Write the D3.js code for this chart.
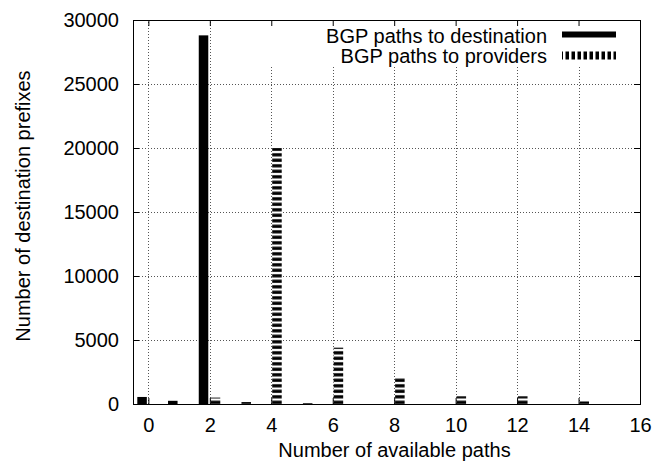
<!DOCTYPE html>
<html>
<head>
<meta charset="utf-8">
<script src="https://cdn.jsdelivr.net/npm/d3@7"></script>
<style>
  body { margin: 0; background: #fff; }
  text { font-family: "Liberation Sans", Arial, sans-serif; }
</style>
</head>
<body>
<div id="chart"></div>
<script>
// data
var pathCounts = [0, 1, 2, 3, 4, 5, 6, 7, 8, 9, 10, 11, 12, 13, 14, 15];
var toDestination = [550, 250, 28800, 0, 0, 0, 0, 0, 0, 0, 0, 0, 0, 0, 0, 0];
var toProviders = [0, 0, 500, 150, 20000, 70, 4400, 0, 2100, 0, 600, 0, 600, 0, 200, 0];
var seriesNames = ["BGP paths to destination", "BGP paths to providers"];
var xTicks = [0, 2, 4, 6, 8, 10, 12, 14, 16];
var yTicks = [0, 5000, 10000, 15000, 20000, 25000, 30000];

var svgWidth = 668;
var svgHeight = 463;

var margin = { top: 20, right: 28, bottom: 59, left: 133 };
var width = svgWidth - margin.left - margin.right;
var height = svgHeight - margin.top - margin.bottom;

var svg = d3.select("#chart")
  .append("svg")
  .attr("width", svgWidth)
  .attr("height", svgHeight);

var defs = svg.append("defs");

// horizontal stripes for the providers bars
var hp = defs.append("pattern")
  .attr("id", "hstripes")
  .attr("patternUnits", "userSpaceOnUse")
  .attr("width", 10)
  .attr("height", 5.5);
hp.append("rect").attr("width", 10).attr("height", 5.5).attr("fill", "#fff");
hp.append("rect").attr("y", 1.2).attr("width", 10).attr("height", 3.2).attr("fill", "#000");

// vertical stripes for the legend sample
var vp = defs.append("pattern")
  .attr("id", "vstripes")
  .attr("patternUnits", "userSpaceOnUse")
  .attr("width", 6)
  .attr("height", 10);
vp.append("rect").attr("width", 6).attr("height", 10).attr("fill", "#fff");
vp.append("rect").attr("x", 0.5).attr("width", 3.5).attr("height", 10).attr("fill", "#000");

var chartGroup = svg.append("g")
  .attr("transform", `translate(${margin.left}, ${margin.top})`);

var x = d3.scaleLinear().domain([-0.5, 16]).range([0, width]);
var y = d3.scaleLinear().domain([0, 30000]).range([height, 0]);

var boxWidth = 0.31;

// grid lines
var grid = chartGroup.append("g")
  .attr("stroke", "#555")
  .attr("stroke-width", 1)
  .attr("stroke-dasharray", "1,2");

grid.selectAll(".gx")
  .data(xTicks.filter(d => d < 16))
  .enter()
  .append("line")
  .attr("x1", d => Math.round(x(d)) + 0.5)
  .attr("x2", d => Math.round(x(d)) + 0.5)
  .attr("y1", height)
  .attr("y2", 0);

grid.selectAll(".gy")
  .data(yTicks.filter(d => d > 0 && d < 30000))
  .enter()
  .append("line")
  .attr("x1", 0)
  .attr("x2", width)
  .attr("y1", d => Math.round(y(d)) + 0.5)
  .attr("y2", d => Math.round(y(d)) + 0.5);

// legend area covers the grid
chartGroup.append("rect")
  .attr("x", x(3.2))
  .attr("y", 1)
  .attr("width", width - x(3.2) - 1)
  .attr("height", 46)
  .attr("fill", "#fff");

// bars
chartGroup.selectAll(".dest")
  .data(pathCounts)
  .enter()
  .append("rect")
  .attr("x", d => x(d - 0.36))
  .attr("width", x(boxWidth) - x(0))
  .attr("y", (d, i) => y(toDestination[i]))
  .attr("height", (d, i) => height - y(toDestination[i]))
  .attr("fill", "#000");

chartGroup.selectAll(".prov")
  .data(pathCounts)
  .enter()
  .append("rect")
  .attr("x", d => x(d + 0.03))
  .attr("width", x(boxWidth) - x(0))
  .attr("y", (d, i) => y(toProviders[i]))
  .attr("height", (d, i) => height - y(toProviders[i]))
  .attr("fill", "url(#hstripes)");

// border
chartGroup.append("rect")
  .attr("x", 0.5)
  .attr("y", 0.5)
  .attr("width", width)
  .attr("height", height)
  .attr("fill", "none")
  .attr("stroke", "#000")
  .attr("stroke-width", 1);

// axes, ticks pointing inwards, mirrored
var btmAxis = d3.axisBottom(x).tickValues(xTicks).tickSize(-6).tickPadding(14).tickFormat(d3.format("d"));
var topAxis = d3.axisTop(x).tickValues(xTicks).tickSize(-6).tickFormat("");
var lftAxis = d3.axisLeft(y).tickValues(yTicks).tickSize(-6).tickPadding(14).tickFormat(d3.format("d"));
var rgtAxis = d3.axisRight(y).tickValues(yTicks).tickSize(-6).tickFormat("");

function styleAxis(g) {
  g.select(".domain").remove();
  g.selectAll("text")
    .style("font-size", "20px")
    .style("fill", "#000")
    .style("font-family", "'Liberation Sans', Arial, sans-serif");
}

chartGroup.append("g")
  .attr("transform", `translate(0, ${height})`)
  .call(btmAxis)
  .call(styleAxis);

chartGroup.append("g")
  .call(topAxis)
  .call(styleAxis);

chartGroup.append("g")
  .call(lftAxis)
  .call(styleAxis);

chartGroup.append("g")
  .attr("transform", `translate(${width}, 0)`)
  .call(rgtAxis)
  .call(styleAxis);

// legend
var legend = chartGroup.append("g");
var legendFills = ["#000", "url(#vstripes)"];

legend.selectAll("text")
  .data(seriesNames)
  .enter()
  .append("text")
  .attr("x", 414)
  .attr("y", (d, i) => 23 + i * 20)
  .attr("text-anchor", "end")
  .style("font-size", "20px")
  .text(d => d);

legend.selectAll("rect")
  .data(seriesNames)
  .enter()
  .append("rect")
  .attr("x", 429)
  .attr("y", (d, i) => 11.5 + i * 20)
  .attr("width", 54)
  .attr("height", (d, i) => i === 0 ? 6 : 8)
  .attr("fill", (d, i) => legendFills[i]);

// axis labels
chartGroup.append("text")
  .attr("transform", "rotate(-90)")
  .attr("y", 30 - margin.left)
  .attr("x", 0 - 186)
  .attr("text-anchor", "middle")
  .style("font-size", "20px")
  .text("Number of destination prefixes");

chartGroup.append("text")
  .attr("x", width / 2 + 8)
  .attr("y", height + 53)
  .attr("text-anchor", "middle")
  .style("font-size", "20px")
  .text("Number of available paths");
</script>
</body>
</html>
